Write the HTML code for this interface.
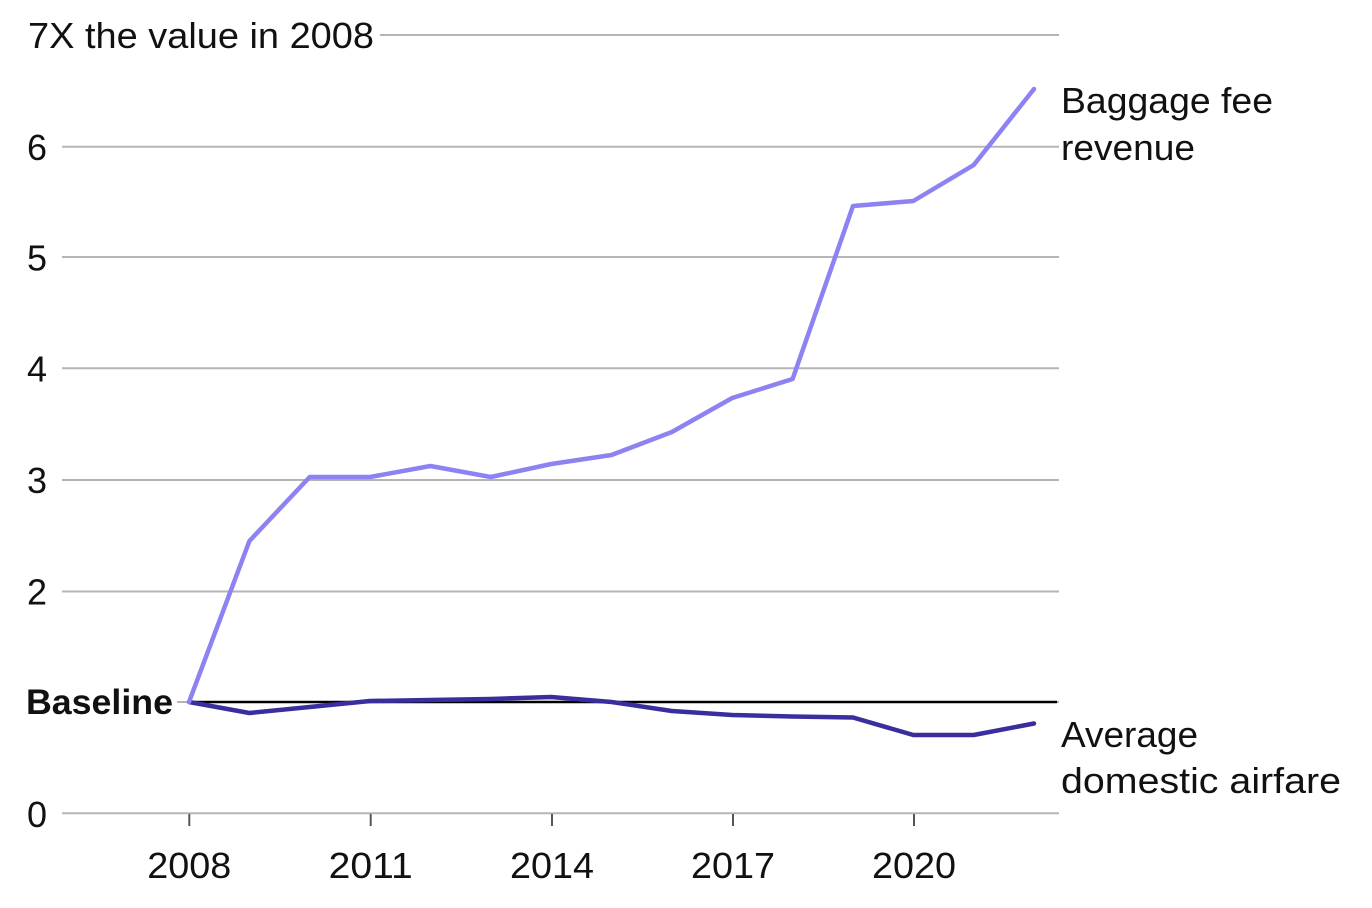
<!DOCTYPE html>
<html>
<head>
<meta charset="utf-8">
<style>
  html, body { margin: 0; padding: 0; background: #ffffff; }
  svg { display: block; }
  text { font-family: "Liberation Sans", sans-serif; fill: #111111; }
</style>
</head>
<body>
<svg width="1372" height="908" viewBox="0 0 1372 908" xmlns="http://www.w3.org/2000/svg">
  <rect x="0" y="0" width="1372" height="908" fill="#ffffff"/>

  <!-- gridlines -->
  <g stroke="#b5b5b5" stroke-width="2" fill="none">
    <line x1="380" y1="35" x2="1059" y2="35"/>
    <line x1="62" y1="146.8" x2="1059" y2="146.8"/>
    <line x1="62" y1="257" x2="1059" y2="257"/>
    <line x1="62" y1="368.3" x2="1059" y2="368.3"/>
    <line x1="62" y1="480" x2="1059" y2="480"/>
    <line x1="62" y1="591.5" x2="1059" y2="591.5"/>
    <line x1="177" y1="702" x2="1059" y2="702"/>
    <line x1="62" y1="813.3" x2="1059" y2="813.3"/>
  </g>

  <!-- baseline -->
  <line x1="189" y1="702" x2="1057" y2="702" stroke="#000000" stroke-width="2.5"/>

  <!-- x ticks -->
  <g stroke="#555555" stroke-width="2">
    <line x1="189.3" y1="814" x2="189.3" y2="826"/>
    <line x1="370.7" y1="814" x2="370.7" y2="826"/>
    <line x1="552" y1="814" x2="552" y2="826"/>
    <line x1="733" y1="814" x2="733" y2="826"/>
    <line x1="914" y1="814" x2="914" y2="826"/>
  </g>

  <!-- series: average domestic airfare -->
  <polyline fill="none" stroke="#3a2e9e" stroke-width="4.5" stroke-linejoin="round" stroke-linecap="round"
    points="189,702 249.4,713 309.7,707 370.1,701 430.4,700 490.8,699 551.2,697 611.5,702 671.9,711 732.2,715 792.6,716.5 853,717.5 913.3,735 973.7,735 1034,723.5"/>

  <!-- series: baggage fee revenue -->
  <polyline fill="none" stroke="#8c82f2" stroke-width="4.5" stroke-linejoin="round" stroke-linecap="round"
    points="189,702 249.4,541 309.7,477 370.1,477 430.4,466 490.8,477 551.2,464 611.5,455 671.9,432 732.2,398 792.6,379 853,206 913.3,201 973.7,165 1034,89"/>

  <!-- y labels -->
  <text x="28" y="48" font-size="36" textLength="346" lengthAdjust="spacingAndGlyphs">7X the value in 2008</text>
  <text x="27" y="160" font-size="36">6</text>
  <text x="27" y="270.5" font-size="36">5</text>
  <text x="27" y="381.5" font-size="36">4</text>
  <text x="27" y="493" font-size="36">3</text>
  <text x="27" y="604.5" font-size="36">2</text>
  <text x="27" y="827" font-size="36">0</text>
  <text x="26" y="714" font-size="35" font-weight="bold" textLength="147" lengthAdjust="spacingAndGlyphs">Baseline</text>

  <!-- x labels -->
  <g font-size="36" text-anchor="middle">
    <text x="189.3" y="878" textLength="84" lengthAdjust="spacingAndGlyphs">2008</text>
    <text x="370.7" y="878" textLength="84" lengthAdjust="spacingAndGlyphs">2011</text>
    <text x="552" y="878" textLength="84" lengthAdjust="spacingAndGlyphs">2014</text>
    <text x="733" y="878" textLength="84" lengthAdjust="spacingAndGlyphs">2017</text>
    <text x="914" y="878" textLength="84" lengthAdjust="spacingAndGlyphs">2020</text>
  </g>

  <!-- series labels -->
  <text x="1061" y="113" font-size="36" textLength="212" lengthAdjust="spacingAndGlyphs">Baggage fee</text>
  <text x="1061" y="160" font-size="36" textLength="134" lengthAdjust="spacingAndGlyphs">revenue</text>
  <text x="1061" y="747" font-size="36" textLength="137" lengthAdjust="spacingAndGlyphs">Average</text>
  <text x="1061" y="793" font-size="36" textLength="280" lengthAdjust="spacingAndGlyphs">domestic airfare</text>
</svg>
</body>
</html>
